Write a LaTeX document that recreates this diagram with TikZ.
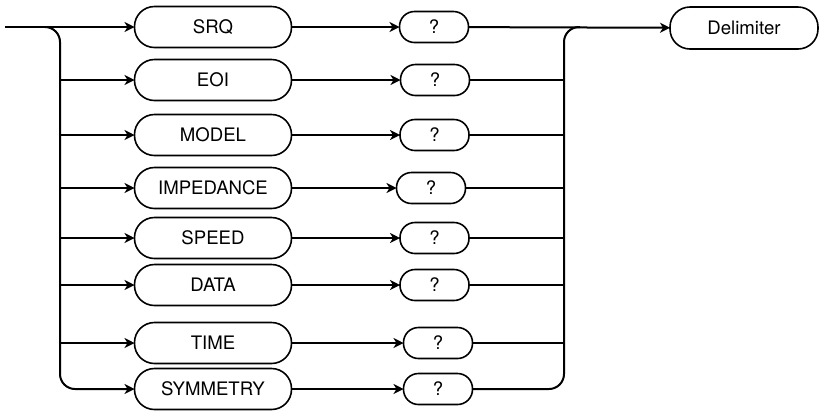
\documentclass[tikz,border=0pt]{standalone}
\usepackage{fontspec}
\setmainfont{TeX Gyre Heros}
\usepackage{tikz}
\usetikzlibrary{arrows.meta}
\tikzset{
  keybox/.style={draw, line width=0.8pt, rounded corners=10pt, minimum width=78.5pt, minimum height=20.5pt, inner sep=0pt, outer sep=0pt, font=\fontsize{9.3}{11}\selectfont},
  qbox/.style={draw, line width=0.8pt, rounded corners=7.5pt, minimum width=34.5pt, minimum height=15.5pt, inner sep=0pt, outer sep=0pt, font=\fontsize{9.3}{11}\selectfont},
  line/.style={line width=1pt},
  flow/.style={line width=1pt, -{Stealth[length=5pt,width=5pt,inset=1.5pt]}}
}
\newcommand{\optrow}[4]{ \node[keybox] (#1) at ( 213 , #2 ) {#3};
  \node[qbox] (q#1) at ( #4 , #2 ) {?};
  \draw[flow] (#1) -- (q#1);}
\newcommand{\tap}[2]{ \coordinate (l#1) at ( 60 , #2 ); \coordinate (r#1) at ( 564 , #2 );
  \draw[flow] (l#1) -- (#1); \draw[line] (q#1) -- (r#1);}

\begin{document}
\begin{tikzpicture}[x=0.5pt,y=-0.5pt]
        \useasboundingbox (0,0) rectangle (820,414);

        % options
        \optrow{srq}{27}{SRQ}{434}
        \optrow{eoi}{80}{EOI}{435}
        \optrow{model}{135}{MODEL}{434.5}
        \optrow{imp}{188}{IMPEDANCE}{431}
        \optrow{speed}{238}{SPEED}{434.5}
        \optrow{data}{285}{DATA}{434.5}
        \optrow{time}{343}{TIME}{438}
        \optrow{sym}{389}{SYMMETRY}{438}

        \node[keybox, minimum width=74pt, minimum height=21pt] (delim) at (744,28) {Delimiter};

        % entry and left bus
        \coordinate (start) at (5,27);
        \coordinate (lsplit) at (45,27);
        \coordinate (lbus) at (60,389);
        \draw[flow] (start) -- (srq);
        \draw[flow, rounded corners=7.5pt] (lsplit) -| (lbus) -- (sym);

        % right bus
        \coordinate (rbus) at (564,389);
        \coordinate (rjoin) at (580,27);
        \draw[line, rounded corners=7.5pt] (qsym) -- (rbus) |- (rjoin);
        \draw[flow] (qsrq) -- (delim);

        % taps
        \tap{eoi}{80}
        \tap{model}{135}
        \tap{imp}{188}
        \tap{speed}{238}
        \tap{data}{285}
        \tap{time}{343}

\end{tikzpicture}
\end{document}
